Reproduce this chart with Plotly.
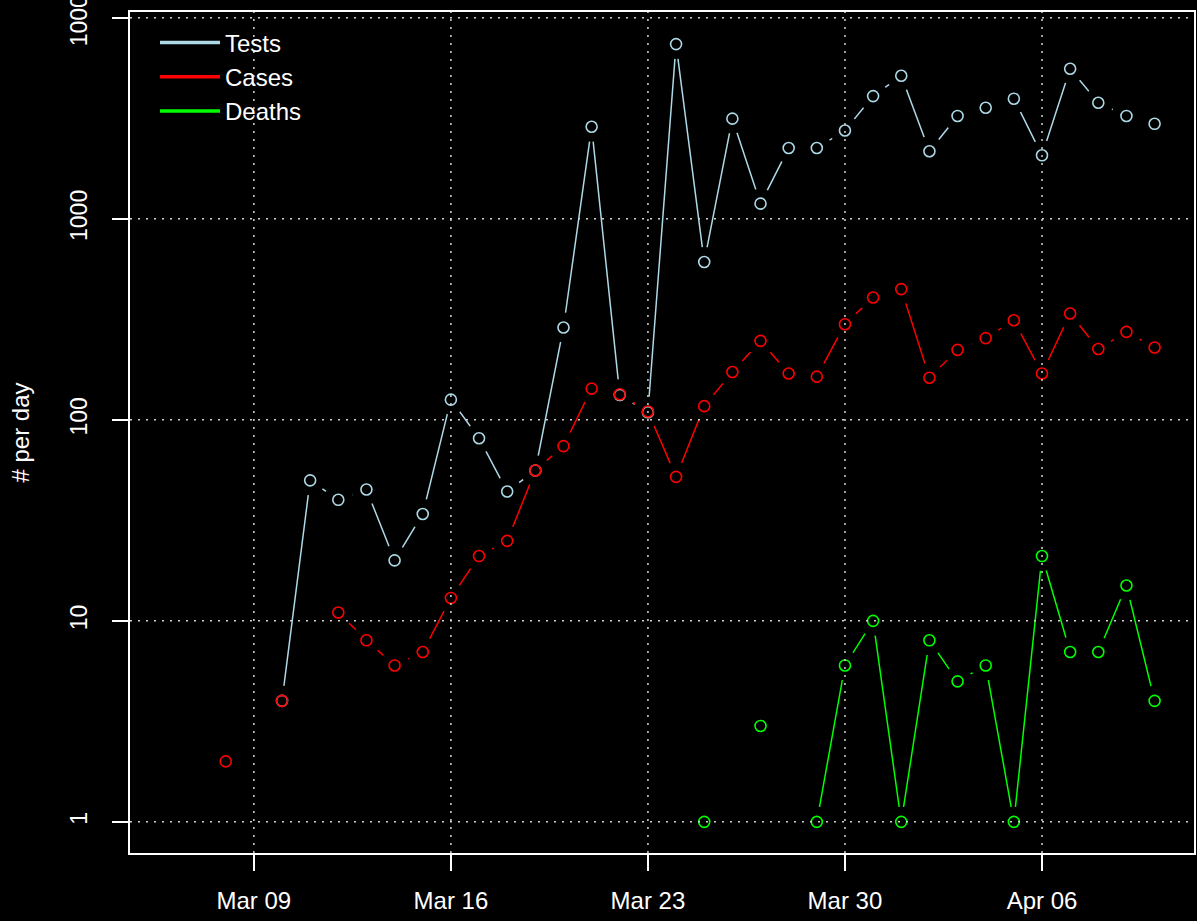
import plotly.graph_objects as go
import pandas as pd

# ---- data ----
dates = pd.date_range("2020-03-06", "2020-04-10").strftime("%Y-%m-%d").tolist()

tests = [None, None, None, None, 4, 50, 40, 45, 20, 34, 126, 81, 44, 56, 288, 2870,
         133, 109, 7400, 610, 3150, 1190, 2250, 2250, 2750, 4080, 5150, 2170, 3250,
         3570, 3960, 2070, 5580, 3780, 3250, 2970]
cases = [None, None, 2, None, 4, None, 11, 8, 6, 7, 13, 21, 25, 56, 74, 143,
         134, 110, 52, 117, 173, 247, 170, 164, 299, 406, 447, 162, 223,
         255, 313, 170, 338, 225, 274, 229]
deaths = [None, None, None, None, None, None, None, None, None, None, None, None, None,
          None, None, None, None, None, None, 1, None, 3, None, 1, 6, 10, 1, 8, 5,
          6, 1, 21, 7, 7, 15, 4]

series_names = ["Tests", "Cases", "Deaths"]
series_values = [tests, cases, deaths]
series_colors = ["#ADD8E6", "#FF0000", "#00FF00"]

x_ticks = ["2020-03-09", "2020-03-16", "2020-03-23", "2020-03-30", "2020-04-06"]
y_ticks = [1, 10, 100, 1000, 10000]
y_ticktext = ["1", "10", "100", "1000", "10000"]

FONT = "Liberation Sans, Arial, Helvetica, sans-serif"
GRID = "#D3D3D3"

fig = go.Figure()

# lines
for name, vals, col in zip(series_names, series_values, series_colors):
    fig.add_trace(go.Scatter(x=dates, y=vals, mode="lines", connectgaps=False,
                             line=dict(color=col, width=1.5), showlegend=False,
                             hoverinfo="skip"))
# gaps around points (R type="b")
for name, vals, col in zip(series_names, series_values, series_colors):
    fig.add_trace(go.Scatter(x=dates, y=vals, mode="markers",
                             marker=dict(size=30, color="black", line=dict(width=0)),
                             showlegend=False, hoverinfo="skip"))
# open circles
for name, vals, col in zip(series_names, series_values, series_colors):
    fig.add_trace(go.Scatter(x=dates, y=vals, mode="markers", name=name,
                             marker=dict(symbol="circle-open", size=11, color=col,
                                         line=dict(width=1.6, color=col)),
                             showlegend=False))
# legend entries
for name, col in zip(series_names, series_colors):
    fig.add_trace(go.Scatter(x=[None], y=[None], mode="lines", name=name,
                             line=dict(color=col, width=3.5)))

shapes = []
for d in x_ticks:
    shapes.append(dict(type="line", xref="x", yref="paper", x0=d, x1=d, y0=0, y1=1,
                       line=dict(color=GRID, width=1.5, dash="2px,6px"), layer="above"))
for v in y_ticks:
    shapes.append(dict(type="line", xref="paper", yref="y", x0=0, x1=1, y0=v, y1=v,
                       line=dict(color=GRID, width=1.5, dash="2px,6px"), layer="above"))

fig.update_layout(
    width=1197, height=921,
    margin=dict(l=130, r=3, t=12, b=68),
    paper_bgcolor="black", plot_bgcolor="black",
    font=dict(family=FONT, size=24, color="white"),
    shapes=shapes,
    showlegend=True,
    legend=dict(x=0.0235, y=0.9899, xanchor="left", yanchor="top",
                bgcolor="rgba(0,0,0,0)", font=dict(size=24, color="white"),
                tracegroupgap=0, itemwidth=60),
    xaxis=dict(type="date", range=["2020-03-04 14:24", "2020-04-11 09:36"],
               tickvals=x_ticks, tickformat="%b %d", showgrid=False, zeroline=False,
               automargin=False,
               showline=True, mirror=True, linecolor="white", linewidth=1.5,
               ticks="outside", ticklen=16, tickwidth=1.5, tickcolor="white",
               ticklabelstandoff=9, tickfont=dict(size=24, color="white")),
    yaxis=dict(type="log", range=[-0.155, 4.029], tickvals=y_ticks, ticktext=y_ticktext,
               tickangle=-90, showgrid=False, zeroline=False, automargin=False,
               ticklabeloverflow="allow",
               showline=True, mirror=True, linecolor="white", linewidth=1.5,
               ticks="outside", ticklen=16, tickwidth=1.5, tickcolor="white",
               ticklabelstandoff=16, tickfont=dict(size=23, color="white")),
    )
fig.update_yaxes(title=dict(text="# per day", standoff=30, font=dict(size=24, color="white")))

fig.write_html("out.html", config={"displayModeBar": False},
               post_script="document.body.style.margin='0px';document.body.style.background='black';")
